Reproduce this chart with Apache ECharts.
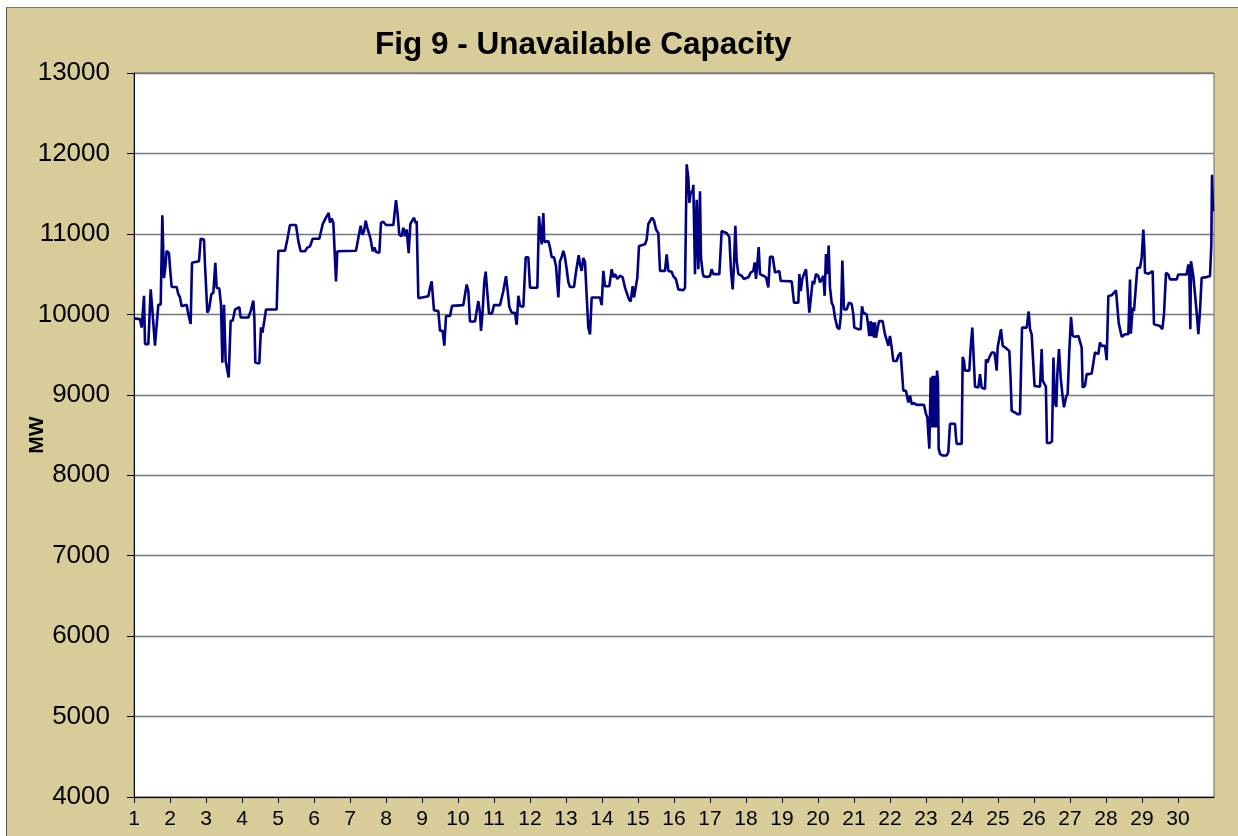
<!DOCTYPE html>
<html>
<head>
<meta charset="utf-8">
<script src="https://cdn.jsdelivr.net/npm/echarts@6/dist/echarts.min.js"></script>
<style>
  html, body { margin: 0; padding: 0; background: #fff; overflow: hidden; }
  #frame {
    position: absolute; left: 6px; top: 7px; width: 1300px; height: 900px;
    background: #d8cc99; border-left: 1px solid #555; border-top: 1px solid #777;
  }
  #chart { position: absolute; left: 0; top: 0; width: 1238px; height: 836px; }
</style>
</head>
<body>
<div id="frame"></div>
<div id="chart"></div>
<script>
// chart text
const chartTitle = "Fig 9 - Unavailable Capacity";
const yName = "MW";

// y axis range (MW)
const yMin = 4000, yMax = 13000, yStep = 1000;
// x axis: days of the month, 1..30 (axis runs to end of day 30)
const dayFirst = 1, dayLast = 31;

// unavailable capacity readings: [day, MW]
const unavailable = [
  [1.000, 9950], [1.167, 9940], [1.213, 9835], [1.278, 10230], [1.306, 9630], [1.398, 9630],
  [1.463, 10310], [1.519, 10000], [1.583, 9610], [1.630, 9610], [1.676, 10120], [1.741, 10120],
  [1.787, 11230], [1.833, 10450], [1.870, 10580], [1.907, 10790], [1.972, 10760], [2.000, 10580],
  [2.046, 10340], [2.185, 10340], [2.231, 10250], [2.278, 10210], [2.324, 10100], [2.370, 10120],
  [2.463, 10120], [2.509, 10000], [2.574, 9880], [2.611, 10640], [2.806, 10660], [2.852, 10940],
  [2.944, 10930], [2.972, 10620], [3.037, 10020], [3.083, 10060], [3.148, 10250], [3.204, 10270],
  [3.259, 10640], [3.296, 10330], [3.370, 10320], [3.417, 10120], [3.454, 9400], [3.500, 10120],
  [3.546, 9420], [3.630, 9215], [3.685, 9920], [3.741, 9920], [3.806, 10060], [3.926, 10090],
  [3.963, 9960], [4.176, 9960], [4.241, 10040], [4.315, 10170], [4.343, 9960], [4.370, 9400],
  [4.481, 9390], [4.528, 9840], [4.565, 9770], [4.620, 9920], [4.667, 10060], [4.963, 10060],
  [5.009, 10790], [5.194, 10790], [5.259, 10930], [5.333, 11110], [5.500, 11110], [5.565, 10910],
  [5.630, 10785], [5.750, 10785], [5.815, 10830], [5.889, 10845], [5.963, 10940], [6.148, 10940],
  [6.241, 11120], [6.306, 11180], [6.352, 11160], [6.407, 11260], [6.444, 11140], [6.491, 11190],
  [6.537, 11140], [6.583, 11120], [6.611, 10410], [6.648, 10785], [7.167, 10790], [7.231, 10950],
  [7.296, 11100], [7.343, 10990], [7.389, 11030], [7.435, 11165], [7.481, 11075], [7.537, 10990],
  [7.574, 10930], [7.630, 10785], [7.676, 10830], [7.722, 10775], [7.815, 10765], [7.861, 11140],
  [7.926, 11150], [8.000, 11110], [8.204, 11110], [8.278, 11420], [8.324, 11240], [8.370, 10990],
  [8.435, 10970], [8.481, 11075], [8.528, 10970], [8.574, 11055], [8.630, 10760], [8.676, 11125],
  [8.731, 11135], [8.778, 11200], [8.824, 11135], [8.852, 11160], [8.898, 10205], [8.963, 10205],
  [9.176, 10225], [9.222, 10330], [9.269, 10410], [9.296, 10410], [9.333, 10050], [9.454, 10040],
  [9.500, 9795], [9.574, 9795], [9.620, 9610], [9.667, 9980], [9.778, 9980], [9.833, 10105],
  [10.148, 10115], [10.241, 10370], [10.287, 10290], [10.333, 9910], [10.472, 9910], [10.565, 10165],
  [10.611, 10020], [10.639, 9795], [10.685, 10040], [10.731, 10410], [10.769, 10530], [10.815, 10515],
  [10.861, 10010], [10.944, 10010], [11.000, 10115], [11.167, 10115], [11.259, 10290], [11.333, 10475],
  [11.380, 10290], [11.426, 10090], [11.491, 10020], [11.583, 10020], [11.630, 9870], [11.676, 10230],
  [11.722, 10105], [11.815, 10095], [11.880, 10710], [11.954, 10710], [12.000, 10330], [12.204, 10330],
  [12.250, 11220], [12.296, 11220], [12.324, 10870], [12.370, 11260], [12.398, 10900], [12.444, 10920],
  [12.509, 10910], [12.556, 10830], [12.602, 10710], [12.667, 10710], [12.722, 10600], [12.787, 10210],
  [12.833, 10660], [12.880, 10710], [12.926, 10790], [12.972, 10710], [13.019, 10560], [13.065, 10400],
  [13.111, 10340], [13.222, 10340], [13.269, 10500], [13.296, 10580], [13.352, 10735], [13.389, 10620],
  [13.435, 10540], [13.481, 10700], [13.528, 10650], [13.574, 10230], [13.620, 9835], [13.667, 9750],
  [13.713, 10210], [13.944, 10210], [13.991, 10115], [14.037, 10540], [14.083, 10350], [14.204, 10350],
  [14.269, 10560], [14.315, 10460], [14.361, 10500], [14.426, 10440], [14.500, 10480], [14.574, 10460],
  [14.639, 10330], [14.685, 10330], [14.750, 10185], [14.796, 10160], [14.852, 10350], [14.889, 10210],
  [14.944, 10210], [14.981, 10455], [15.028, 10850], [15.074, 10870], [15.194, 10870], [15.241, 10930],
  [15.287, 11125], [15.333, 11135], [15.389, 11200], [15.444, 11165], [15.500, 11055], [15.565, 11010],
  [15.611, 10540], [15.750, 10540], [15.796, 10745], [15.843, 10540], [15.935, 10530], [15.981, 10475],
  [16.056, 10435], [16.120, 10310], [16.259, 10300], [16.306, 10330], [16.352, 11865], [16.398, 11695],
  [16.426, 11385], [16.463, 11510], [16.519, 11540], [16.537, 11610], [16.583, 10500], [16.630, 11425],
  [16.676, 10560], [16.722, 11530], [16.750, 10700], [16.796, 10520], [16.815, 10475], [16.907, 10465],
  [17.000, 10475], [17.046, 10560], [17.093, 10500], [17.259, 10500], [17.324, 11035], [17.463, 11010],
  [17.537, 10960], [17.583, 10540], [17.630, 10310], [17.667, 10625], [17.704, 11100], [17.741, 10665],
  [17.787, 10500], [17.880, 10480], [17.944, 10440], [18.065, 10460], [18.130, 10520], [18.204, 10540],
  [18.241, 10645], [18.278, 10440], [18.315, 10625], [18.352, 10835], [18.389, 10500], [18.481, 10480],
  [18.556, 10460], [18.620, 10335], [18.667, 10715], [18.741, 10715], [18.806, 10520], [18.852, 10540],
  [18.926, 10540], [18.963, 10415], [19.037, 10415], [19.269, 10410], [19.333, 10145], [19.454, 10145],
  [19.482, 10500], [19.519, 10290], [19.565, 10440], [19.611, 10500], [19.667, 10560], [19.713, 10560],
  [19.759, 10020], [19.806, 10020], [19.852, 10415], [19.889, 10375], [19.944, 10500], [20.009, 10480],
  [20.056, 10395], [20.102, 10395], [20.148, 10480], [20.185, 10230], [20.222, 10750], [20.259, 10500],
  [20.296, 10855], [20.333, 10335], [20.380, 10145], [20.426, 10100], [20.472, 9960], [20.537, 9835],
  [20.593, 9815], [20.639, 10000], [20.676, 10670], [20.704, 10650], [20.722, 10060], [20.796, 10060],
  [20.861, 10145], [20.935, 10130], [20.981, 10000], [21.009, 9835], [21.120, 9815], [21.185, 9815],
  [21.222, 10100], [21.259, 10020], [21.306, 10030], [21.352, 10000], [21.389, 9875], [21.426, 9730],
  [21.463, 9915], [21.491, 9730], [21.519, 9900], [21.556, 9710], [21.583, 9900], [21.611, 9710],
  [21.648, 9710], [21.694, 9915], [21.796, 9915], [21.861, 9750], [21.907, 9745], [21.954, 9610],
  [22.000, 9730], [22.046, 9590], [22.093, 9420], [22.185, 9420], [22.231, 9485], [22.296, 9525],
  [22.370, 9050], [22.444, 9050], [22.509, 8905], [22.556, 8990], [22.602, 8885], [22.667, 8895],
  [22.741, 8875], [22.944, 8875], [23.000, 8760], [23.037, 8720], [23.074, 8450], [23.093, 8330],
  [23.130, 9215], [23.157, 8595], [23.185, 9235], [23.222, 8595], [23.250, 9235], [23.278, 8595],
  [23.306, 9300], [23.333, 9175], [23.352, 8330], [23.389, 8265], [23.463, 8245], [23.574, 8245],
  [23.620, 8285], [23.667, 8640], [23.713, 8660], [23.806, 8640], [23.833, 8470], [23.852, 8390],
  [23.991, 8390], [24.019, 9470], [24.056, 9420], [24.083, 9300], [24.204, 9300], [24.241, 9590],
  [24.287, 9835], [24.333, 9380], [24.361, 9100], [24.454, 9090], [24.500, 9255], [24.546, 9090],
  [24.639, 9070], [24.667, 9440], [24.704, 9400], [24.759, 9465], [24.824, 9525], [24.898, 9525],
  [24.935, 9420], [24.963, 9300], [24.991, 9590], [25.037, 9590], [25.083, 9815], [25.130, 9610],
  [25.194, 9590], [25.259, 9565], [25.315, 9545], [25.352, 9175], [25.380, 8800], [25.472, 8780],
  [25.537, 8760], [25.611, 8760], [25.667, 9835], [25.722, 9855], [25.796, 9835], [25.852, 10035],
  [25.889, 9815], [25.935, 9750], [25.981, 9730], [26.015, 9110], [26.167, 9100], [26.213, 9567],
  [26.241, 9175], [26.278, 9155], [26.330, 9100], [26.360, 8400], [26.400, 8380], [26.440, 8400],
  [26.500, 8420], [26.540, 9464], [26.580, 8900], [26.620, 8850], [26.648, 9257], [26.694, 9567],
  [26.741, 9216], [26.787, 9009], [26.833, 8845], [26.889, 8968], [26.935, 9010], [26.981, 9546],
  [27.028, 9967], [27.074, 9732], [27.139, 9720], [27.231, 9732], [27.278, 9711], [27.324, 9588],
  [27.352, 9092], [27.417, 9110], [27.463, 9257], [27.537, 9257], [27.602, 9265], [27.648, 9257],
  [27.694, 9526], [27.741, 9526], [27.787, 9505], [27.833, 9650], [27.880, 9608], [27.926, 9590],
  [27.972, 9608], [28.019, 9431], [28.065, 10228], [28.157, 10236], [28.204, 10257], [28.278, 10298],
  [28.315, 10290], [28.352, 9897], [28.389, 9877], [28.435, 9720], [28.528, 9752], [28.620, 9752],
  [28.667, 10434], [28.690, 9760], [28.741, 10083], [28.778, 10042], [28.833, 10034], [28.870, 10579],
  [28.944, 10579], [28.991, 10703], [29.037, 11054], [29.065, 10827], [29.083, 10517], [29.176, 10504],
  [29.296, 10537], [29.333, 9877], [29.407, 9868], [29.500, 9856], [29.565, 9815], [29.611, 10001],
  [29.667, 10517], [29.731, 10496], [29.778, 10434], [29.963, 10434], [30.009, 10496], [30.241, 10496],
  [30.287, 10620], [30.315, 10475], [30.343, 9815], [30.361, 10660], [30.389, 10682], [30.426, 10475],
  [30.463, 10475], [30.519, 10021], [30.565, 9753], [30.611, 10042], [30.657, 10455], [30.796, 10463],
  [30.889, 10475], [30.926, 10868], [30.944, 11735], [30.972, 11281]
];

let myChart = echarts.init(document.getElementById("chart"));
let option = {
  backgroundColor: "transparent",
  animation: false,
  textStyle: { fontFamily: "Liberation Sans, Arial, sans-serif" },
  title: {
    text: chartTitle,
    left: 370,
    top: 24,
    textStyle: { fontSize: 31.5, fontWeight: "bold", color: "#000" },
  },
  grid: {
    left: 134,
    top: 73,
    width: 1080,
    height: 724,
    outerBoundsMode: "none",
    containLabel: false,
    show: true,
    backgroundColor: "#fff",
    borderColor: "#666",
    borderWidth: 1,
  },
  xAxis: {
    type: "value",
    min: dayFirst,
    max: dayLast,
    interval: 1,
    axisLine: { lineStyle: { color: "#000", width: 1 } },
    axisTick: { show: true, length: 6, lineStyle: { color: "#000" } },
    axisLabel: { showMaxLabel: false, color: "#000", fontSize: 21, margin: 12 },
    splitLine: { show: false },
  },
  yAxis: {
    type: "value",
    min: yMin,
    max: yMax,
    interval: yStep,
    name: yName,
    nameLocation: "middle",
    nameRotate: 90,
    nameGap: 86,
    nameMoveOverlap: false,
    nameTextStyle: { fontSize: 21, fontWeight: "bold", color: "#000" },
    axisLine: { show: true, lineStyle: { color: "#000", width: 1 } },
    axisTick: { show: true, length: 7, lineStyle: { color: "#000" } },
    axisLabel: {
      color: "#000",
      fontSize: 26,
      margin: 24,
      formatter: (v) => String(v),
    },
    splitLine: { lineStyle: { color: "#777", width: 1.3 } },
  },
  series: [
    {
      name: "Unavailable Capacity",
      type: "line",
      data: unavailable,
      showSymbol: false,
      lineStyle: { color: "#000080", width: 2.6 },
    },
  ],
};
myChart.setOption(option);
window.onresize = myChart.resize;
</script>
</body>
</html>
